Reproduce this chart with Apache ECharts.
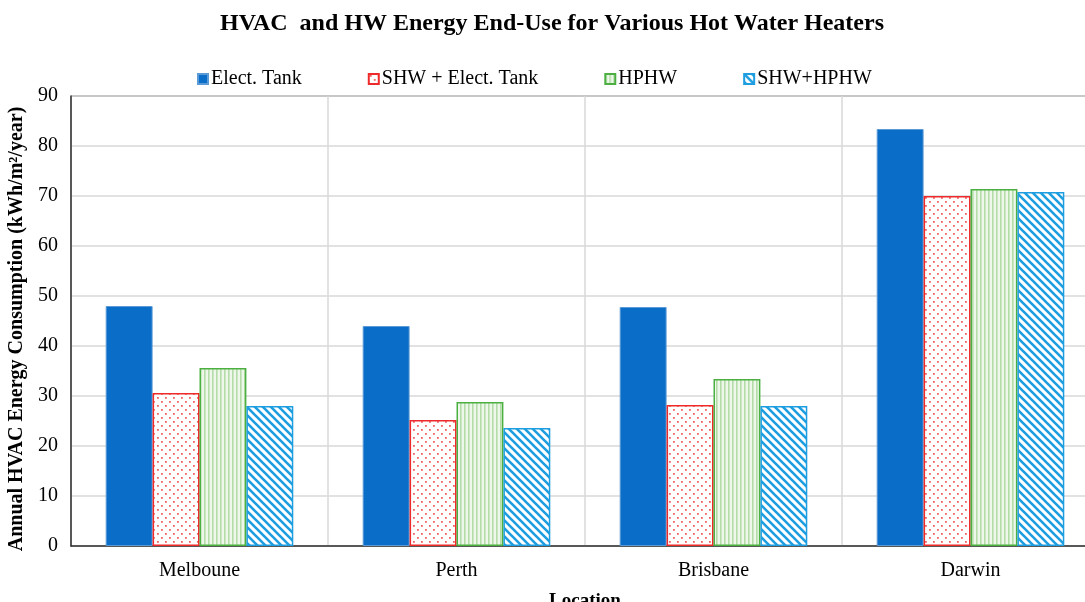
<!DOCTYPE html>
<html>
<head>
<meta charset="utf-8">
<script src="https://cdn.jsdelivr.net/npm/echarts@6/dist/echarts.min.js"></script>
<style>
  html, body { margin: 0; padding: 0; background: #fff; }
  #main { width: 1085px; height: 602px; }
</style>
</head>
<body>
<div id="main"></div>
<script>
var locations = ['Melboune', 'Perth', 'Brisbane', 'Darwin'];
var electTank = [48, 44, 47.8, 83.4];
var shwElect = [30.6, 25.2, 28.2, 70];
var hphw = [35.6, 28.8, 33.4, 71.4];
var shwHphw = [28, 23.6, 28, 70.8];

// hatch patterns like the excel fills
function dotPattern() {
  var c = document.createElement('canvas');
  c.width = 8; c.height = 8;
  var ctx = c.getContext('2d');
  ctx.fillStyle = '#fff';
  ctx.fillRect(0, 0, 8, 8);
  ctx.fillStyle = '#f26464';
  ctx.fillRect(1, 1, 1.8, 1.8);
  ctx.fillRect(5, 5, 1.8, 1.8);
  return c;
}
function vStripePattern() {
  var c = document.createElement('canvas');
  c.width = 4; c.height = 4;
  var ctx = c.getContext('2d');
  ctx.fillStyle = '#eef8ea';
  ctx.fillRect(0, 0, 4, 4);
  ctx.fillStyle = '#b3dca8';
  ctx.fillRect(0, 0, 1.6, 4);
  return c;
}
function diagPattern() {
  var c = document.createElement('canvas');
  c.width = 8; c.height = 8;
  var ctx = c.getContext('2d');
  ctx.fillStyle = '#fff';
  ctx.fillRect(0, 0, 8, 8);
  ctx.strokeStyle = '#1e9ee0';
  ctx.lineWidth = 2.6;
  ctx.beginPath();
  ctx.moveTo(-2, -2); ctx.lineTo(10, 10);
  ctx.moveTo(-2, 6); ctx.lineTo(2, 10);
  ctx.moveTo(6, -2); ctx.lineTo(10, 2);
  ctx.stroke();
  return c;
}

var serif = '"Liberation Serif", "DejaVu Serif", serif';
var chartDom = document.getElementById('main');
var myChart = echarts.init(chartDom);
var option = {
  animation: false,
  textStyle: { fontFamily: serif, color: '#000' },
  title: {
    text: 'HVAC  and HW Energy End-Use for Various Hot Water Heaters',
    left: 215,
    top: 7,
    textStyle: { fontFamily: serif, fontSize: 24, fontWeight: 'bold', color: '#000' }
  },
  legend: {
    top: 64,
    left: 192,
    icon: 'rect',
    itemWidth: 10,
    itemHeight: 10,
    itemGap: 66,
    textStyle: { fontFamily: serif, fontSize: 20, color: '#000', padding: [0, 0, 0, -2] },
    data: ['Elect. Tank', 'SHW + Elect. Tank', 'HPHW', 'SHW+HPHW']
  },
  grid: {
    left: 71, right: -14, top: 96, bottom: 56,
    outerBoundsMode: 'none',
    show: true, borderColor: '#333', borderWidth: 1
  },
  xAxis: {
    type: 'category',
    data: locations,
    name: 'Location',
    nameLocation: 'middle',
    nameGap: 46,
    nameTextStyle: { fontFamily: serif, fontSize: 19, fontWeight: 'bold', color: '#000' },
    axisLine: { lineStyle: { color: '#333', width: 1.5 } },
    axisTick: { show: false },
    axisLabel: { fontFamily: serif, fontSize: 20, color: '#000', margin: 15 },
    splitLine: { show: true, lineStyle: { color: '#d9d9d9', width: 1.5 } }
  },
  yAxis: {
    type: 'value',
    min: 0,
    max: 90,
    interval: 10,
    name: 'Annual HVAC Energy Consumption (kWh/m²/year)',
    nameLocation: 'middle',
    nameGap: 35,
    nameTextStyle: { fontFamily: serif, fontSize: 20, fontWeight: 'bold', color: '#000', padding: [0, 16, 0, 0] },
    axisLine: { show: true, lineStyle: { color: '#333', width: 1.5 } },
    axisTick: { show: false },
    axisLabel: { fontFamily: serif, fontSize: 20, color: '#000', margin: 13 },
    splitLine: { lineStyle: { color: '#d9d9d9', width: 1.5 } }
  },
  series: [
    {
      name: 'Elect. Tank', type: 'bar', data: electTank,
      barGap: '0%', barCategoryGap: '27%',
      itemStyle: { color: '#0a6ec9', borderColor: '#5b9ad6', borderWidth: 1 }
    },
    {
      name: 'SHW + Elect. Tank', type: 'bar', data: shwElect,
      itemStyle: { color: { image: dotPattern(), repeat: 'repeat' }, borderColor: '#ee2a2a', borderWidth: 1.5 }
    },
    {
      name: 'HPHW', type: 'bar', data: hphw,
      itemStyle: { color: { image: vStripePattern(), repeat: 'repeat' }, borderColor: '#4caf42', borderWidth: 1.5 }
    },
    {
      name: 'SHW+HPHW', type: 'bar', data: shwHphw,
      itemStyle: { color: { image: diagPattern(), repeat: 'repeat' }, borderColor: '#1e9ee0', borderWidth: 1.5 }
    }
  ]
};
myChart.setOption(option);
window.addEventListener('resize', function () {
  myChart.resize();
});
</script>
</body>
</html>
